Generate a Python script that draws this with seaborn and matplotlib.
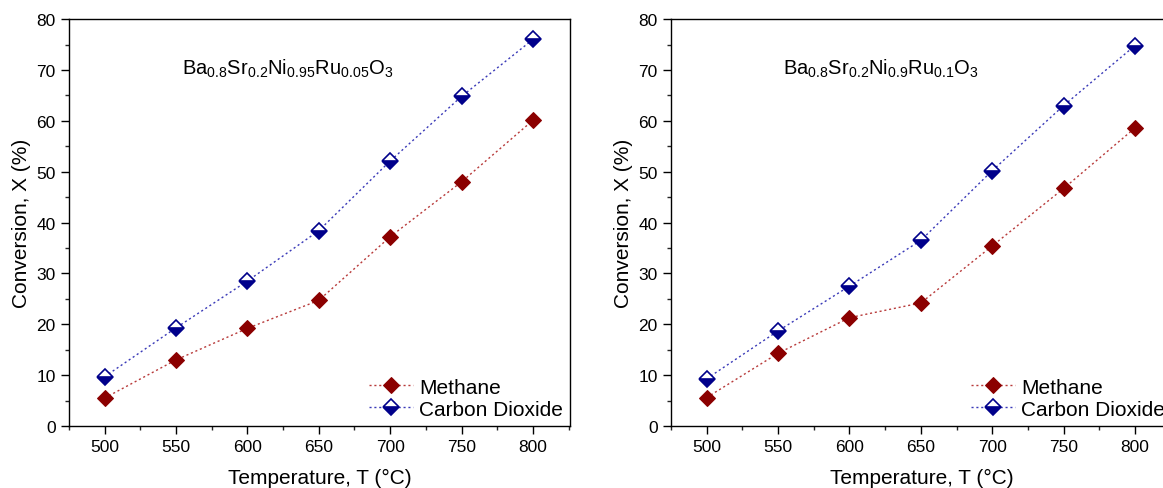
import numpy as np
import pandas as pd
import matplotlib
matplotlib.use("Agg")
import matplotlib.pyplot as plt
from matplotlib.ticker import MultipleLocator
import seaborn as sns

# ---------------- DATA ----------------
temps = [500, 550, 600, 650, 700, 750, 800]

methane_a = [5.5, 13.0, 19.2, 24.7, 37.2, 48.0, 60.1]
co2_a = [9.7, 19.3, 28.5, 38.4, 52.1, 64.8, 76.0]

methane_b = [5.6, 14.3, 21.3, 24.2, 35.4, 46.7, 58.6]
co2_b = [9.3, 18.7, 27.5, 36.5, 50.2, 63.0, 74.8]

labels = ["Methane", "Carbon Dioxide"]
formula_a = r"Ba$_{0.8}$Sr$_{0.2}$Ni$_{0.95}$Ru$_{0.05}$O$_3$"
formula_b = r"Ba$_{0.8}$Sr$_{0.2}$Ni$_{0.9}$Ru$_{0.1}$O$_3$"

# ---------------- STYLE ----------------
sns.set_style("white")
plt.rcParams["font.family"] = ["Liberation Sans", "DejaVu Sans"]
plt.rcParams["mathtext.default"] = "regular"
plt.rcParams["text.color"] = "black"
plt.rcParams["axes.labelcolor"] = "black"

fig = plt.figure(figsize=(11.63, 4.89), dpi=100)
ax1 = fig.add_axes([0.0593, 0.1268, 0.4308, 0.832])
ax2 = fig.add_axes([0.577, 0.1268, 0.4308, 0.832])


def draw_panel(ax, methane, co2, formula, fx):
    df = pd.DataFrame({"T": temps, "Methane": methane, "CO2": co2})
    sns.lineplot(data=df, x="T", y="Methane", ax=ax, color="#b83a3a",
                 linestyle=(0, (1.5, 2)), lw=1.0, marker="D", markersize=8,
                 markerfacecolor="#8b0000", markeredgecolor="#8b0000",
                 label=labels[0])
    sns.lineplot(data=df, x="T", y="CO2", ax=ax, color="#3a3ab8",
                 linestyle=(0, (1.5, 2)), lw=1.0, marker="D", markersize=8.5,
                 fillstyle="bottom", markerfacecolor="#00008b",
                 markerfacecoloralt="white", markeredgecolor="#00008b",
                 markeredgewidth=1.2, label=labels[1])
    ax.set_xlim(475, 826)
    ax.set_ylim(0, 80)
    ax.xaxis.set_major_locator(MultipleLocator(50))
    ax.xaxis.set_minor_locator(MultipleLocator(25))
    ax.yaxis.set_major_locator(MultipleLocator(10))
    ax.yaxis.set_minor_locator(MultipleLocator(5))
    ax.tick_params(which="major", direction="out", length=6, width=1,
                   labelsize=12.5, colors="black", bottom=True, left=True)
    ax.tick_params(which="minor", direction="out", length=3, width=1,
                   bottom=True, left=True)
    for s in ax.spines.values():
        s.set_color("black")
        s.set_linewidth(1.0)
    ax.set_xlabel("Temperature, T (°C)", fontsize=15, labelpad=10)
    ax.set_ylabel("Conversion, X (%)", fontsize=15)
    ax.text(fx, 70.5, formula, ha="center", va="center", fontsize=14.5)
    ax.legend(loc="lower right", frameon=False, fontsize=15,
              handlelength=2.1, handletextpad=0.3, borderaxespad=0.15,
              borderpad=0.2, labelspacing=0.15)


draw_panel(ax1, methane_a, co2_a, formula_a, 628)
draw_panel(ax2, methane_b, co2_b, formula_b, 622)

fig.savefig("out.png", dpi=100)
